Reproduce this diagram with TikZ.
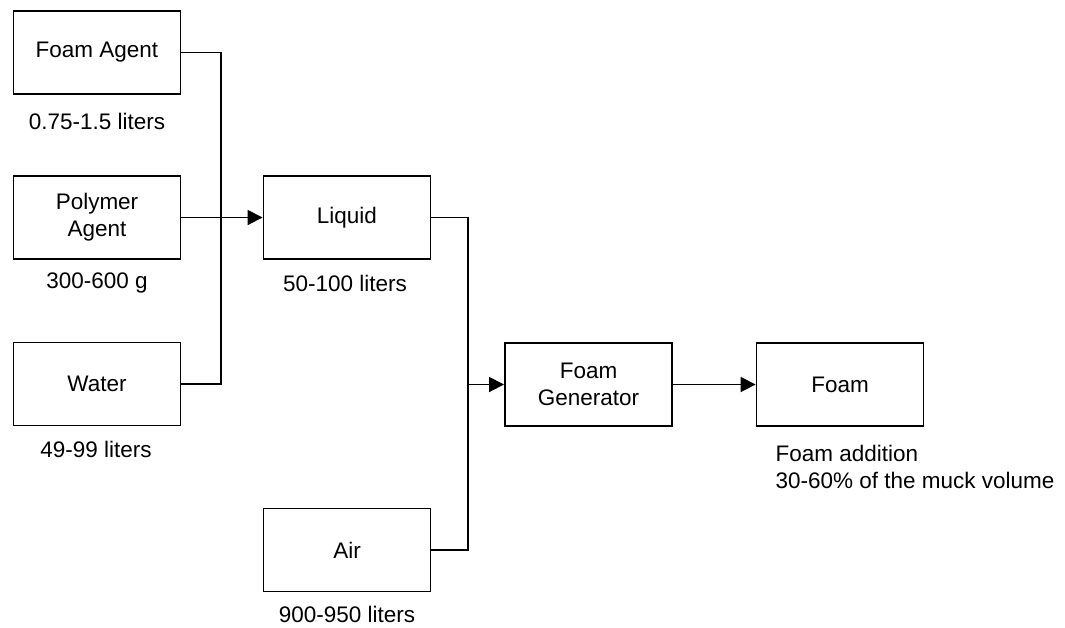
\documentclass[tikz,border=0pt]{standalone}
\usepackage{fontspec}
\setmainfont{Liberation Sans}
\usetikzlibrary{positioning, arrows.meta}

\begin{document}
\begin{tikzpicture}[
        x=0.02cm, y=-0.02cm,
        font=\fontsize{12.8}{15.5}\selectfont,
        >={Triangle[length=3mm, width=3mm]},
        line width=1pt,
        flow_box/.style={draw, line width=1.1pt, align=center, minimum width=3.34cm, minimum height=1.66cm, inner sep=2pt},
        amount/.style={inner sep=1pt, align=center}
    ]
    \useasboundingbox (0,0) rectangle (1065,627);

    % ========================================================
    % 1. BAHAN CAIRAN (KIRI)
    % ========================================================
    \node[flow_box] (agent) at (97,52.5) {Foam Agent};
    \node[amount] (agent_amt) at (97,121) {0.75-1.5 liters};

    \node[flow_box] (polymer) at (97,217.5) {Polymer\\Agent};
    \node[amount] (polymer_amt) at (97,283) {300-600 g};

    \node[flow_box] (water) at (97,384) {Water};
    \node[amount] (water_amt) at (96,449) {49-99 liters};

    % ========================================================
    % 2. CAIRAN & UDARA (TENGAH)
    % ========================================================
    \node[flow_box] (liquid) at (347,217.5) {Liquid};
    \node[amount] (liquid_amt) at (345,283) {50-100 liters};

    \node[flow_box] (air) at (347,550) {Air};
    \node[amount] (air_amt) at (347,614) {900-950 liters};

    % Titik pencampuran cairan
    \coordinate (mix_liquid) at (221,217.5);
    \draw (agent.east) -| (mix_liquid);
    \draw (water.east) -| (mix_liquid);
    \draw[->] (polymer.east) -- (liquid.west);

    % ========================================================
    % 3. GENERATOR & BUSA (KANAN)
    % ========================================================
    \node[flow_box] (generator) at (588.5,384.5) {Foam\\Generator};
    \node[flow_box] (foam) at (840,384.5) {Foam};
    \node[amount, anchor=west, align=left] (foam_amt) at (773,467) {Foam addition\\30-60\% of the muck volume};

    % Titik pencampuran udara
    \coordinate (mix_gen) at (468,384.5);
    \draw (liquid.east) -| (mix_gen);
    \draw (air.east) -| (mix_gen);

    \draw[->] (mix_gen) -- (generator.west);
    \draw[->] (generator.east) -- (foam.west);

\end{tikzpicture}
\end{document}
